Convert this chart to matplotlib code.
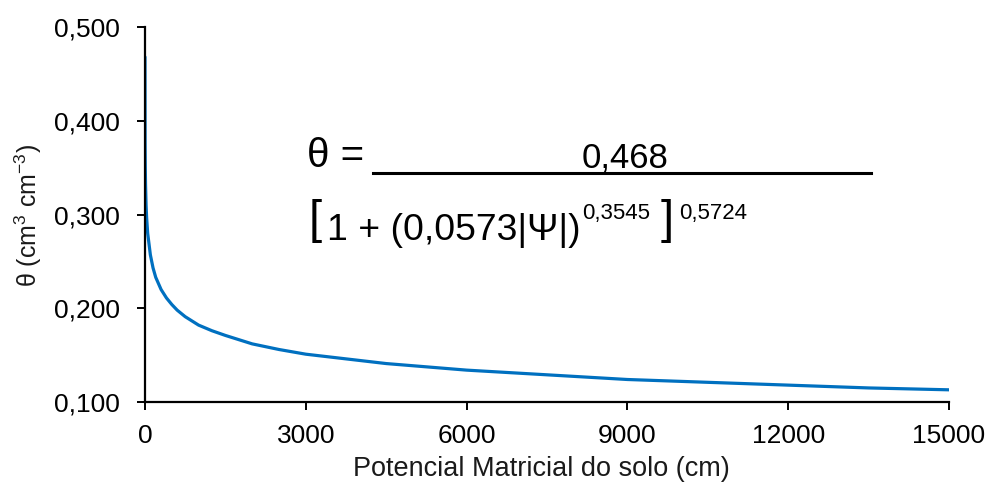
import matplotlib
matplotlib.use("Agg")
import matplotlib.pyplot as plt
from matplotlib.lines import Line2D

plt.rcParams['font.family'] = ['Liberation Sans', 'DejaVu Sans']
plt.rcParams['mathtext.fontset'] = 'custom'
plt.rcParams['mathtext.rm'] = 'Liberation Sans'
plt.rcParams['mathtext.it'] = 'Liberation Sans'

# Data: soil matric potential (cm) vs water content
psi = [0, 2, 5, 10, 20, 30, 50, 100, 150, 200, 300, 400, 500, 600, 750,
       1000, 1250, 1500, 2000, 2500, 3000, 4500, 6000, 7500, 9000, 10500,
       12000, 13500, 15000]
theta = [0.468, 0.376, 0.352, 0.332, 0.310, 0.297, 0.280, 0.257, 0.243,
         0.233, 0.220, 0.211, 0.204, 0.198, 0.191, 0.182, 0.176, 0.171,
         0.162, 0.156, 0.151, 0.141, 0.134, 0.129, 0.124, 0.121, 0.118,
         0.115, 0.113]

xticks = [0, 3000, 6000, 9000, 12000, 15000]
yticks = [0.100, 0.200, 0.300, 0.400, 0.500]
ytick_labels = ['0,100', '0,200', '0,300', '0,400', '0,500']

W, H = 989, 483
fig = plt.figure(figsize=(W / 100, H / 100), dpi=100)
ax = fig.add_axes([145 / W, 1 - 402 / H, (949 - 145) / W, (402 - 27) / H])

ax.plot(psi, theta, color='#0070C0', lw=2.3, solid_capstyle='round',
        solid_joinstyle='round')
ax.set_xlim(0, 15000)
ax.set_ylim(0.1, 0.5)
ax.set_xticks(xticks)
ax.set_xticklabels([str(t) for t in xticks])
ax.set_yticks(yticks)
ax.set_yticklabels(ytick_labels)
for s in ['top', 'right']:
    ax.spines[s].set_visible(False)
for s in ['left', 'bottom']:
    ax.spines[s].set_linewidth(1.6)
    ax.spines[s].set_color('black')
ax.tick_params(axis='both', direction='out', length=6, width=1.4,
               labelsize=19, colors='black')
ax.tick_params(axis='x', pad=10)
ax.tick_params(axis='y', pad=12)


def fx(x):
    return x / W


def fy(y):
    return 1 - y / H


fig.text(fx(541), fy(476), 'Potencial Matricial do solo (cm)', fontsize=19.5,
         va='baseline', ha='center', color='#1a1a1a')
fig.text(fx(28), fy(215), r'θ (cm$^{3}$ cm$^{-3}$)', fontsize=18,
         rotation=90, va='center', ha='center', color='#1a1a1a')

# Equation annotation
fig.text(fx(307), fy(167), 'θ =', fontsize=29, va='baseline', ha='left')
fig.add_artist(Line2D([fx(373), fx(871)], [fy(173), fy(173)],
                      color='black', lw=2.2, transform=fig.transFigure))
fig.text(fx(582), fy(167), '0,468', fontsize=25, va='baseline', ha='left')
fig.text(fx(309), fy(233), '[', fontsize=34, va='baseline', ha='left')
fig.text(fx(327), fy(240), '1 + (0,0573|Ψ|)', fontsize=26.9, va='baseline',
         ha='left')
fig.text(fx(582), fy(219), '0,3545', fontsize=16, va='baseline', ha='left')
fig.text(fx(661), fy(233), ']', fontsize=34, va='baseline', ha='left')
fig.text(fx(679), fy(219), '0,5724', fontsize=16, va='baseline', ha='left')

fig.savefig('out.png', dpi=100)
